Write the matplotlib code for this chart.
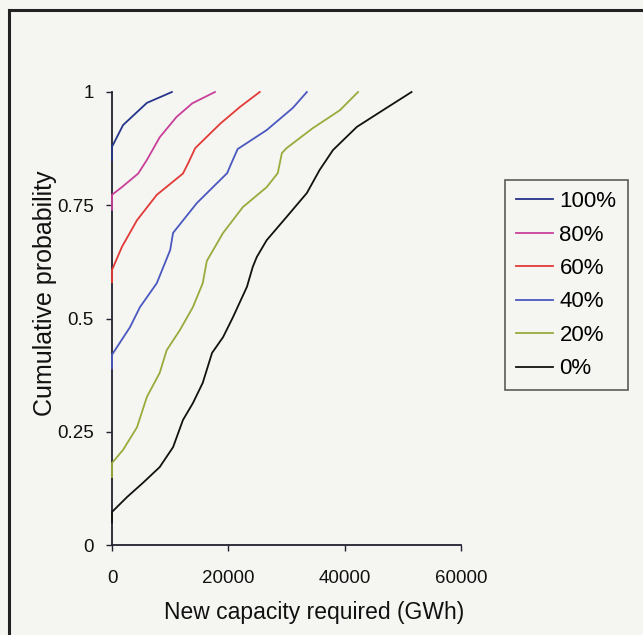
import matplotlib
matplotlib.use("Agg")
import matplotlib.pyplot as plt
from matplotlib.lines import Line2D

plt.rcParams['font.family'] = ['Liberation Sans', 'DejaVu Sans']

# New capacity required (GWh) vs cumulative probability, one curve per scenario
x_100 = [0, 0, 1900, 6000, 10300]
p_100 = [0.85, 0.879, 0.927, 0.976, 1.0]

x_80 = [0, 0, 1700, 4500, 6000, 8200, 11100, 13800, 17700]
p_80 = [0.74, 0.773, 0.79, 0.82, 0.85, 0.90, 0.945, 0.975, 1.0]

x_60 = [0, 0, 1700, 4300, 7700, 12200, 13100, 14300, 18600, 22000, 25400]
p_60 = [0.58, 0.607, 0.658, 0.717, 0.773, 0.82, 0.843, 0.876, 0.93, 0.967, 1.0]

x_40 = [0, 0, 3100, 4800, 7700, 10000, 10500, 14600, 19800, 20600, 21600, 26600, 31100, 33500]
p_40 = [0.39, 0.42, 0.481, 0.525, 0.578, 0.651, 0.689, 0.755, 0.821, 0.845, 0.874, 0.916, 0.965, 1.0]

x_20 = [0, 0, 1900, 4300, 6000, 8200, 9400, 11700, 13900, 15600, 16300, 19100, 22500,
        26600, 28500, 29200, 30000, 34500, 39200, 42300]
p_20 = [0.15, 0.181, 0.21, 0.26, 0.327, 0.38, 0.43, 0.475, 0.525, 0.578, 0.627, 0.689, 0.746,
        0.79, 0.821, 0.865, 0.876, 0.92, 0.96, 1.0]

x_0 = [0, 0, 2600, 5300, 8200, 10500, 12200, 13900, 15600, 17200, 19100, 20800, 23200,
       24200, 24900, 26600, 30000, 33500, 35700, 38000, 42100, 46600, 51500]
p_0 = [0.05, 0.073, 0.106, 0.137, 0.172, 0.216, 0.276, 0.313, 0.358, 0.424, 0.459, 0.503, 0.57,
       0.614, 0.636, 0.673, 0.724, 0.777, 0.828, 0.872, 0.923, 0.96, 1.0]

series_labels = ['100%', '80%', '60%', '40%', '20%', '0%']
series_x = [x_100, x_80, x_60, x_40, x_20, x_0]
series_p = [p_100, p_80, p_60, p_40, p_20, p_0]
series_colors = ['#26348a', '#c8409a', '#e23a36', '#4a58c0', '#9aaa3c', '#111111']

x_ticks = [0, 20000, 40000, 60000]
y_ticks = [0, 0.25, 0.5, 0.75, 1]
y_tick_labels = ['0', '0.25', '0.5', '0.75', '1']

W, H = 643, 635
fig = plt.figure(figsize=(W / 100, H / 100), dpi=100)
fig.patch.set_facecolor('#f5f5f1')

ax = fig.add_axes([112 / W, 1 - 545 / H, (461 - 112) / W, (545 - 92) / H])
ax.set_facecolor('none')

for xs, ps, c, lab in zip(series_x, series_p, series_colors, series_labels):
    ax.plot(xs, ps, color=c, lw=1.3, label=lab, clip_on=False, zorder=3)

ax.set_xlim(0, 60000)
ax.set_ylim(0, 1)
ax.set_xticks(x_ticks)
ax.set_xticklabels([str(v) for v in x_ticks])
ax.set_yticks(y_ticks)
ax.set_yticklabels(y_tick_labels)

for s in ['top', 'right']:
    ax.spines[s].set_visible(False)
for s in ['left', 'bottom']:
    ax.spines[s].set_color('#222230')
    ax.spines[s].set_linewidth(1.3)

ax.tick_params(direction='out', length=4, width=1.0, colors='#222230',
               labelsize=13.5, labelcolor='#111111', pad=9)
ax.tick_params(axis='x', pad=14)

# Axis titles placed in figure pixels
fig.text(314 / W, 1 - 612 / H, 'New capacity required (GWh)', fontsize=16.5,
         color='#111111', ha='center', va='center')
fig.text(45 / W, 1 - 293 / H, 'Cumulative probability', fontsize=18,
         color='#111111', ha='center', va='center', rotation=90)

handles = [Line2D([0], [0], color=c, lw=1.3) for c in series_colors]
leg = fig.legend(handles, series_labels, loc='upper left',
                 bbox_to_anchor=(505 / W, 1 - 180 / H), bbox_transform=fig.transFigure,
                 fontsize=16, frameon=True, fancybox=False, handlelength=1.65,
                 handletextpad=0.3, labelspacing=0.56, borderpad=0.5, borderaxespad=0)
leg.get_frame().set_edgecolor('#333333')
leg.get_frame().set_linewidth(1.2)
leg.get_frame().set_facecolor('none')

# Outer frame along the top and left edges
fig.add_artist(Line2D([9 / W, 1], [1 - 10 / H, 1 - 10 / H], transform=fig.transFigure,
                      color='#222222', lw=2.2))
fig.add_artist(Line2D([9 / W, 9 / W], [0, 1 - 10 / H], transform=fig.transFigure,
                      color='#222222', lw=2.2))

fig.savefig('out.png', dpi=100, facecolor=fig.get_facecolor())
